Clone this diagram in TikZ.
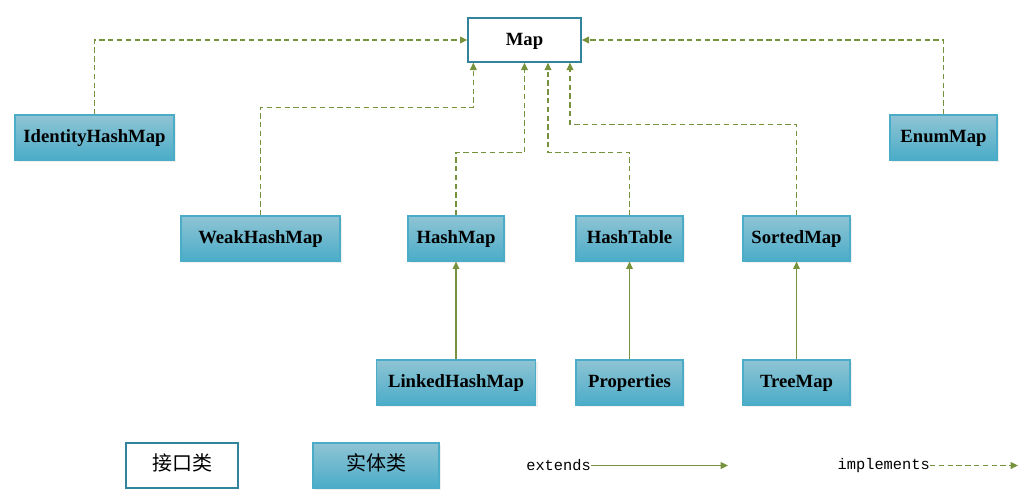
\documentclass[tikz,border=0pt]{standalone}
\usepackage{fontspec}
\setmainfont{Liberation Serif}
\setmonofont{Liberation Mono}
\newfontfamily\cjk{Noto Sans CJK SC}
\usetikzlibrary{arrows.meta,shadows}
\definecolor{arrgreen}{RGB}{118,146,60}
\definecolor{ifborder}{RGB}{49,132,155}
\definecolor{enttop}{RGB}{142,196,212}
\definecolor{entbot}{RGB}{75,172,200}
\definecolor{entborder}{RGB}{75,172,200}

\begin{document}
\begin{tikzpicture}[x=0.75pt,y=-0.75pt,
  iface/.style={draw=ifborder, line width=1pt, fill=white, inner sep=0pt,
    text height=0.78em, text depth=0pt, font=\bfseries\fontsize{14}{16}\selectfont},
  entity/.style={draw=entborder, line width=0.9pt, top color=enttop, bottom color=entbot,
    drop shadow={shadow xshift=1.8pt, shadow yshift=-1.8pt, fill=black!12},
    minimum height=33.75pt, inner sep=0pt, text height=0.78em, text depth=0pt,
    font=\bfseries\fontsize{14}{16}\selectfont},
  impl/.style={arrgreen, line width=1pt, dash pattern=on 4pt off 2.6pt,
    -{Triangle[length=5.5pt,width=5pt]}},
  ext/.style={arrgreen, line width=1pt, -{Triangle[length=5.5pt,width=5pt]}}]
\useasboundingbox (0,0) rectangle (1035,500);

\node[iface, minimum width=84.75pt, minimum height=33pt] (map) at (524.5,40) {Map};

\node[entity, minimum width=119.25pt] (identity) at (94.5,137.5) {IdentityHashMap};
\node[entity, minimum width=80.25pt] (enum) at (943.5,137.5) {EnumMap};
\node[entity, minimum width=119.25pt] (weak) at (260.5,238.5) {WeakHashMap};
\node[entity, minimum width=72pt] (hashmap) at (456,238.5) {HashMap};
\node[entity, minimum width=80.25pt] (hashtable) at (629.5,238.5) {HashTable};
\node[entity, minimum width=80.25pt] (sorted) at (796.5,238.5) {SortedMap};
\node[entity, minimum width=119.25pt] (linked) at (456,382.5) {LinkedHashMap};
\node[entity, minimum width=80.25pt] (props) at (629.5,382.5) {Properties};
\node[entity, minimum width=80.25pt] (tree) at (796.5,382.5) {TreeMap};

% implements
\draw[impl] (identity.north) |- (map.west);
\draw[impl] (enum.north) |- (map.east);
\draw[impl] (weak.north) -- ++(0,-108) -| ([xshift=4.5pt]map.south west);
\draw[impl] (hashmap.north) -- ++(0,-63) -| (map.south);
\draw[impl] (hashtable.north) -- ++(0,-63) -| ([xshift=17.6pt]map.south);
\draw[impl] (sorted.north) -- ++(0,-91) -| ([xshift=34.1pt]map.south);

% extends
\draw[ext] (linked) -- (hashmap);
\draw[ext] (props) -- (hashtable);
\draw[ext] (tree) -- (sorted);

% legend
\node[iface, minimum width=84pt, minimum height=33.75pt, text height=0.8em,
  font=\cjk\fontsize{15}{18}\selectfont] (ifkey) at (182,465.5) {接口类};
\node[entity, minimum width=94.5pt, text height=0.8em,
  font=\cjk\fontsize{15}{18}\selectfont] (entkey) at (376,465.5) {实体类};
\node[anchor=east, inner sep=0pt, font=\ttfamily\fontsize{11.5}{14}\selectfont] (extlabel) at (591,465.5) {extends};
\coordinate (extend) at (728,465.5);
\draw[ext] (extlabel.east) -- (extend);
\node[anchor=east, inner sep=0pt, font=\ttfamily\fontsize{11.5}{14}\selectfont] (impllabel) at (930,465.5) {implements};
\coordinate (implend) at (1018,465.5);
\draw[impl] (impllabel.east) -- (implend);

\end{tikzpicture}
\end{document}
